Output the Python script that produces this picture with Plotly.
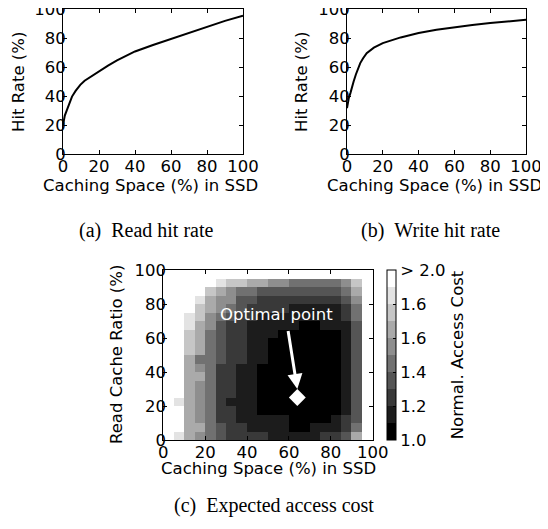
import plotly.graph_objects as go

W, H = 548, 529
OFF = 8  # page body margin of the browser

# ---------------- data ----------------
read_x = [0, 0.5, 1, 2.2, 3.5, 5, 7, 9.6, 12, 15, 20, 25, 30, 40, 50, 60, 70, 80, 90, 100]
read_hit = [20, 23.5, 26.5, 30.4, 35, 39.6, 43.5, 47.7, 50.5, 53, 57.4, 61, 64.5, 70.7, 75.2, 79.3, 83.6, 88, 91.8, 95.4]

write_x = [0, 0.5, 1, 1.9, 2.8, 3.7, 5, 7.4, 9, 11, 15, 20, 30, 40, 50, 60, 70, 80, 90, 100]
write_hit = [31.6, 35.5, 38.5, 42, 46.5, 50, 55, 62.7, 66, 69.6, 73.3, 76.5, 80.4, 83.4, 85.7, 87.6, 89.0, 90.3, 91.5, 92.6]

# heatmap: cost bands (row 0 = read ratio 95-100 at top)
cache_space = [2.5 + 5 * i for i in range(20)]
read_ratio = [97.5 - 5 * i for i in range(20)]
bands = [
    [9, 9, 9, 9, 9, 9, 9, 9, 9, 9, 9, 9, 9, 9, 9, 9, 9, 9, 9, 9],
    [9, 9, 9, 9, 9, 8, 7, 7, 6, 6, 5, 5, 4, 4, 4, 4, 4, 5, 7, 9],
    [9, 9, 9, 9, 7, 6, 5, 4, 4, 3, 3, 3, 3, 3, 3, 3, 3, 4, 6, 9],
    [9, 9, 9, 8, 6, 5, 5, 3, 3, 2, 2, 2, 2, 2, 2, 2, 2, 3, 5, 9],
    [9, 9, 9, 7, 6, 5, 4, 3, 2, 2, 2, 2, 1, 1, 1, 1, 1, 2, 4, 9],
    [9, 9, 8, 7, 5, 4, 3, 2, 2, 1, 1, 1, 1, 1, 1, 1, 1, 2, 4, 9],
    [9, 9, 8, 6, 5, 3, 2, 2, 1, 1, 1, 1, 1, 0, 0, 1, 1, 1, 3, 9],
    [9, 9, 7, 6, 4, 3, 2, 2, 1, 1, 1, 0, 0, 0, 0, 0, 0, 1, 3, 9],
    [9, 9, 7, 6, 4, 3, 2, 2, 1, 1, 0, 0, 0, 0, 0, 0, 0, 1, 3, 9],
    [9, 9, 7, 6, 4, 3, 2, 2, 1, 1, 0, 0, 0, 0, 0, 0, 0, 1, 3, 9],
    [9, 9, 6, 4, 4, 3, 2, 2, 1, 1, 0, 0, 0, 0, 0, 0, 0, 1, 3, 9],
    [9, 9, 6, 5, 4, 2, 2, 1, 1, 0, 0, 0, 0, 0, 0, 0, 0, 1, 3, 9],
    [9, 9, 6, 6, 4, 2, 2, 1, 1, 0, 0, 0, 0, 0, 0, 0, 0, 1, 3, 9],
    [9, 9, 6, 5, 4, 2, 2, 1, 1, 0, 0, 0, 0, 0, 0, 0, 0, 1, 3, 9],
    [9, 9, 6, 5, 4, 2, 2, 1, 1, 0, 0, 0, 0, 0, 0, 0, 0, 1, 3, 9],
    [9, 8, 6, 5, 4, 2, 1, 1, 1, 0, 0, 0, 0, 0, 0, 0, 0, 1, 3, 9],
    [9, 9, 6, 5, 4, 2, 2, 1, 1, 0, 0, 0, 0, 0, 0, 0, 0, 1, 3, 9],
    [9, 9, 6, 5, 4, 2, 2, 1, 1, 1, 1, 1, 0, 0, 0, 0, 1, 2, 3, 9],
    [9, 9, 6, 6, 4, 3, 2, 2, 1, 1, 1, 1, 0, 0, 1, 1, 1, 2, 4, 9],
    [9, 8, 6, 5, 4, 3, 2, 2, 2, 2, 1, 1, 1, 1, 1, 2, 2, 3, 6, 9],
]
cost = [[(2.5 if b == 9 else round(1.05 + 0.1 * b, 2)) for b in row] for row in bands]

optimal_x = [64]
optimal_y = [25]

ticks = [0, 20, 40, 60, 80, 100]
cb_tickvals = [1.0, 1.2, 1.4, 1.6, 1.8, 2.0]
cb_ticktext = ["1.0", "1.2", "1.4", "1.6", "1.6", "> 2.0"]

# discrete gray colorscale (10 bands)
grays = [0, 28, 57, 85, 113, 142, 170, 198, 227, 255]
colorscale = []
for i, g in enumerate(grays):
    c = f"rgb({g},{g},{g})"
    colorscale.append([i / 10, c])
    colorscale.append([(i + 1) / 10, c])


def fx(px):
    return (px - OFF) / W


def fy(py):
    return 1 - (py - OFF) / H


# ---------------- figure ----------------
FONT = "DejaVu Sans"
FS = 16.5
fig = go.Figure()

fig.add_trace(go.Scatter(x=read_x, y=read_hit, mode="lines", line=dict(color="black", width=2),
                         xaxis="x", yaxis="y", showlegend=False))
fig.add_trace(go.Scatter(x=write_x, y=write_hit, mode="lines", line=dict(color="black", width=2),
                         xaxis="x2", yaxis="y2", showlegend=False))
fig.add_trace(go.Heatmap(
    x=cache_space, y=read_ratio, z=cost, zmin=1.0, zmax=2.0,
    colorscale=colorscale, xaxis="x3", yaxis="y3",
    colorbar=dict(
        x=fx(386.7), xanchor="left", xpad=0, ypad=0,
        y=fy(440), yanchor="bottom", len=170 / H, lenmode="fraction",
        thickness=8.5, thicknessmode="pixels",
        outlinecolor="black", outlinewidth=1,
        tickvals=cb_tickvals, ticktext=cb_ticktext, ticks="inside", ticklen=3,
        tickcolor="black", tickfont=dict(family=FONT, size=FS, color="black"),
        ticklabeloverflow="allow",
        title=dict(text="Normal. Access Cost", side="right", font=dict(family=FONT, size=FS, color="black")),
    ),
    hoverinfo="skip",
))
fig.add_trace(go.Scatter(x=optimal_x, y=optimal_y, mode="markers",
                         marker=dict(symbol="diamond", size=13, color="white", line=dict(width=0)),
                         xaxis="x3", yaxis="y3", showlegend=False))

tickfont = dict(family=FONT, size=FS, color="black")


def ax(domain, anchor, is_y):
    d = dict(domain=domain, anchor=anchor, range=[0, 100], tickvals=ticks, ticks="inside", ticklen=4,
             tickcolor="black", showline=True, linecolor="black", linewidth=1, mirror="ticks",
             showgrid=False, zeroline=False, tickfont=tickfont, automargin=False,
             ticklabeloverflow="allow")
    d["ticklabelstandoff"] = -7 if is_y else -3
    return d


def title_ann(text, px, py, rot=0):
    return dict(text=text, x=fx(px), y=fy(py), xref="paper", yref="paper", showarrow=False,
                xanchor="center", yanchor="middle",
                textangle=rot, font=dict(family=FONT, size=FS, color="black"))


def caption(text, px, py):
    return dict(text=text, x=fx(px), y=fy(py), xref="paper", yref="paper", showarrow=False,
                xanchor="center", yanchor="middle",
                font=dict(family="Liberation Serif", size=20, color="black"))


NB = "\u00a0\u00a0"

fig.update_layout(
    template="none",
    width=W, height=H, margin=dict(l=0, r=0, t=0, b=0, autoexpand=False),
    paper_bgcolor="white", plot_bgcolor="white",
    xaxis=ax([fx(63), fx(243)], "y", False),
    yaxis=ax([fy(154), fy(9)], "x", True),
    xaxis2=ax([fx(347), fx(526)], "y2", False),
    yaxis2=ax([fy(154), fy(9)], "x2", True),
    xaxis3=ax([fx(163.3), fx(372.7)], "y3", False),
    yaxis3=ax([fy(440), fy(270)], "x3", True),
    annotations=[
        title_ann("Caching Space (%) in SSD", 150, 185),
        title_ann("Hit Rate (%)", 18, 82, -90),
        title_ann("Caching Space (%) in SSD", 434, 185),
        title_ann("Hit Rate (%)", 301, 82, -90),
        title_ann("Caching Space (%) in SSD", 268, 468),
        title_ann("Read Cache Ratio (%)", 116, 355, -90),
        caption("(a)" + NB + "Read hit rate", 146, 230),
        caption("(b)" + NB + "Write hit rate", 430, 230),
        caption("(c)" + NB + "Expected access cost", 274, 505),
        dict(text="Optimal point", x=54, y=74, xref="x3", yref="y3", showarrow=False,
             xanchor="center", yanchor="middle",
             font=dict(family=FONT, size=FS, color="white")),
        dict(x=64, y=30, xref="x3", yref="y3", ax=59.5, ay=65, axref="x3", ayref="y3",
             showarrow=True, arrowhead=2, arrowsize=1, arrowwidth=3, arrowcolor="white", text=""),
    ],
)

fig.write_html("out.html")
